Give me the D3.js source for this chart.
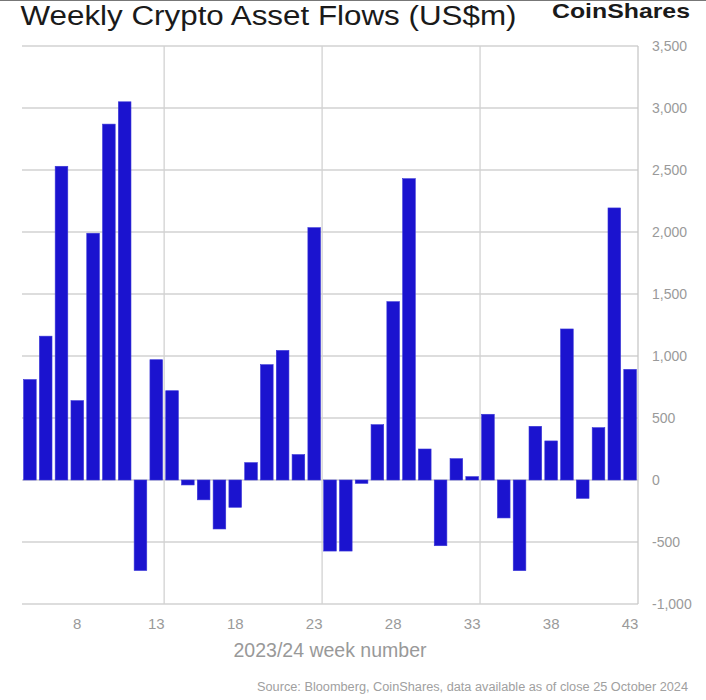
<!DOCTYPE html>
<html>
<head>
<meta charset="utf-8">
<script src="https://cdn.jsdelivr.net/npm/d3@7"></script>
<style>
  body { margin: 0; background: #fff; }
  text { font-family: "Liberation Sans", Arial, sans-serif; }
</style>
</head>
<body>
<script>
var weeks = [5, 6, 7, 8, 9, 10, 11, 12, 13, 14, 15, 16, 17, 18, 19, 20, 21, 22, 23, 24,
  25, 26, 27, 28, 29, 30, 31, 32, 33, 34, 35, 36, 37, 38, 39, 40, 41, 42, 43];
var flows = [810, 1160, 2530, 640, 1990, 2870, 3050, -730, 970, 720, -40, -160, -395, -220,
  140, 930, 1045, 205, 2035, -573, -573, -27, 446, 1438, 2430, 250, -530, 172, 27, 530,
  -306, -731, 433, 315, 1218, -148, 422, 2194, 892];
var weekLabels = [8, 13, 18, 23, 28, 33, 38, 43];
var gridWeeks = [13, 23, 33];
var yTicks = [-1000, -500, 0, 500, 1000, 1500, 2000, 2500, 3000, 3500];

var w = 706;
var h = 700;
var plotLeft = 22, plotRight = 638, plotTop = 46, plotBottom = 604;

var svg = d3.select('body').append('svg')
  .attr('width', w)
  .attr('height', h);

var x = d3.scaleBand()
  .domain(weeks)
  .range([plotLeft, plotRight])
  .paddingInner(0.2)
  .paddingOuter(0.1);

var y = d3.scaleLinear()
  .domain([-1000, 3500])
  .range([plotBottom, plotTop]);

// plain hyphen for negatives, like the source chart
var fmt = d => d3.format(',')(d).replace('\u2212', '-');

// thin border at very top of the screenshot
svg.append('line')
  .attr('x1', 0).attr('x2', w)
  .attr('y1', 0.5).attr('y2', 0.5)
  .attr('stroke', '#777');

// horizontal gridlines
svg.selectAll('.hgrid')
  .data(yTicks)
  .enter()
  .append('line')
  .attr('class', 'hgrid')
  .attr('x1', plotLeft)
  .attr('x2', plotRight)
  .attr('y1', d => y(d))
  .attr('y2', d => y(d))
  .attr('stroke', '#d2d2d2')
  .attr('stroke-width', 1.3);

// vertical gridlines, after every tenth week
var gapX = d => x(d) + x.bandwidth() + x.step() * x.paddingInner() / 2;
svg.selectAll('.vgrid')
  .data(gridWeeks)
  .enter()
  .append('line')
  .attr('class', 'vgrid')
  .attr('x1', gapX)
  .attr('x2', gapX)
  .attr('y1', plotTop)
  .attr('y2', plotBottom)
  .attr('stroke', '#d2d2d2')
  .attr('stroke-width', 1.3);

// right axis line
svg.append('line')
  .attr('x1', plotRight).attr('x2', plotRight)
  .attr('y1', plotTop).attr('y2', plotBottom)
  .attr('stroke', '#c8c8c8')
  .attr('stroke-width', 1.3);

// bars
svg.selectAll('.bar')
  .data(flows)
  .enter()
  .append('rect')
  .attr('class', 'bar')
  .attr('x', (d, i) => x(weeks[i]))
  .attr('width', x.bandwidth())
  .attr('y', d => y(Math.max(0, d)))
  .attr('height', d => Math.abs(y(d) - y(0)))
  .attr('fill', '#1b13cf')
  .attr('stroke', '#3a36d8')
  .attr('stroke-width', 0.6);

// y axis on the right
var yAxis = d3.axisRight(y)
  .tickValues(yTicks)
  .tickSize(0)
  .tickPadding(14)
  .tickFormat(fmt);

var gy = svg.append('g')
  .attr('transform', 'translate(' + plotRight + ',0)')
  .call(yAxis);
gy.select('.domain').remove();
gy.selectAll('text')
  .attr('fill', '#9a9a9a')
  .style('font-size', '14px');

// x axis labels
var xAxis = d3.axisBottom(x)
  .tickValues(weekLabels)
  .tickSize(0)
  .tickPadding(14);

var gx = svg.append('g')
  .attr('transform', 'translate(0,' + plotBottom + ')')
  .call(xAxis);
gx.select('.domain').remove();
gx.selectAll('text')
  .attr('fill', '#9a9a9a')
  .style('font-size', '15px');

svg.append('text')
  .attr('x', 330)
  .attr('y', 657)
  .attr('text-anchor', 'middle')
  .attr('fill', '#999')
  .style('font-size', '19.5px')
  .text('2023/24 week number');

// title
svg.append('text')
  .attr('x', 20.5)
  .attr('y', 25)
  .attr('fill', '#1a1a1a')
  .attr('textLength', 496)
  .attr('lengthAdjust', 'spacingAndGlyphs')
  .style('font-size', '27px')
  .text('Weekly Crypto Asset Flows (US$m)');

// logo
svg.append('text')
  .attr('x', 552)
  .attr('y', 18)
  .attr('fill', '#1a1a1a')
  .attr('textLength', 138)
  .attr('lengthAdjust', 'spacingAndGlyphs')
  .style('font-size', '21px')
  .style('font-weight', 'bold')
  .text('CoinShares');

// source
svg.append('text')
  .attr('x', 688)
  .attr('y', 691)
  .attr('text-anchor', 'end')
  .attr('fill', '#a0a0a0')
  .attr('textLength', 431)
  .attr('lengthAdjust', 'spacingAndGlyphs')
  .style('font-size', '12.5px')
  .text('Source: Bloomberg, CoinShares, data available as of close 25 October 2024');
</script>
</body>
</html>
